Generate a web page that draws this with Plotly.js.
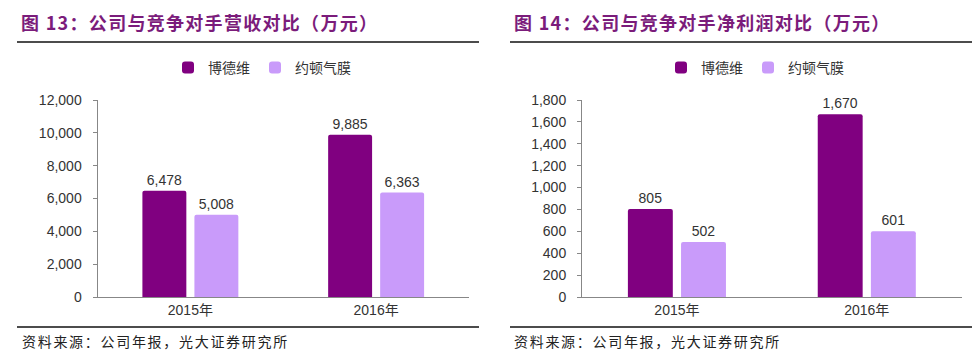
<!DOCTYPE html>
<html><head><meta charset="utf-8">
<script src="https://cdn.plot.ly/plotly-3.0.1.min.js"></script>
<style>html,body{margin:0;padding:0;background:#fff}#chart{width:980px;height:353px}</style>
</head><body><div id="chart"></div>
<script>
const categories = ['2015年', '2016年'];
const seriesNames = ['博德维', '约顿气膜'];
const revBodewei = [6478, 9885];
const revYuedun = [5008, 6363];
const profitBodewei = [805, 1670];
const profitYuedun = [502, 601];
const revTicks = [0, 2000, 4000, 6000, 8000, 10000, 12000];
const profitTicks = [0, 200, 400, 600, 800, 1000, 1200, 1400, 1600, 1800];
const titleLeft = '图 13：公司与竞争对手营收对比（万元）';
const titleRight = '图 14：公司与竞争对手净利润对比（万元）';
const sourceText = '资料来源：公司年报，光大证券研究所';

const W = 980, H = 353;
const px = x => x / W;
const py = y => 1 - y / H;
const DARK = '#800080', LIGHT = '#c99bfa';
const TXT = '#333333';
const AX = '#878787';
const NUMFONT = 'Liberation Sans, Arial, sans-serif';
const CJK = 'Noto Sans CJK SC, sans-serif';
const MIXED = 'Liberation Sans, Noto Sans CJK SC, sans-serif';

function bar(name, x, y, color, xa, ya, legend) {
  return {
    type: 'bar', name: name, x: x, y: y, xaxis: xa, yaxis: ya, legend: legend,
    marker: {color: color, cornerradius: 2, line: {width: 0}},
    text: y.map(v => v.toLocaleString('en-US')), textposition: 'outside',
    textfont: {family: NUMFONT, size: 14, color: TXT}, cliponaxis: false,
    hoverinfo: 'skip'
  };
}

const data = [
  bar(seriesNames[0], categories, revBodewei, DARK, 'x', 'y', 'legend'),
  bar(seriesNames[1], categories, revYuedun, LIGHT, 'x', 'y', 'legend'),
  bar(seriesNames[0], categories, profitBodewei, DARK, 'x2', 'y2', 'legend2'),
  bar(seriesNames[1], categories, profitYuedun, LIGHT, 'x2', 'y2', 'legend2')
];

const xBase = {
  type: 'category', showline: true, linecolor: AX, linewidth: 1, ticks: '',
  showgrid: false, zeroline: false, fixedrange: true,
  tickfont: {family: MIXED, size: 14, color: TXT}
};
const yBase = {
  showline: true, linecolor: AX, linewidth: 1, ticks: 'outside', ticklen: 4,
  tickcolor: AX, showgrid: false, zeroline: false, fixedrange: true,
  tickformat: ',d', ticklabelstandoff: 8,
  tickfont: {family: NUMFONT, size: 14, color: TXT},
  domain: [py(297), py(100)]
};
const legBase = {
  orientation: 'h', xanchor: 'center', yanchor: 'middle', y: py(68),
  font: {family: CJK, size: 14, color: TXT}, itemwidth: 30,
  bgcolor: 'rgba(0,0,0,0)', traceorder: 'normal'
};

function lineShape(x0, x1, y) {
  return {type: 'line', xref: 'paper', yref: 'paper', x0: px(x0), x1: px(x1), y0: py(y), y1: py(y),
          line: {color: '#111111', width: 1.3}};
}
function ann(text, x, y, font) {
  return {xref: 'paper', yref: 'paper', x: px(x), y: py(y), xanchor: 'left', yanchor: 'middle',
          showarrow: false, text: text, font: font};
}
const titleFont = {family: CJK, size: 18, color: '#7b1c7b', weight: 'bold'};
const srcFont = {family: CJK, size: 14, color: '#222222'};
const spaced = (t, s) => '<span style="letter-spacing:' + s + 'px">' + t + '</span>';

const layout = {
  width: W, height: H, margin: {l: 0, r: 0, t: 0, b: 0},
  paper_bgcolor: '#ffffff', plot_bgcolor: '#ffffff',
  barmode: 'group', bargap: 0.44, bargroupgap: 0.155,
  showlegend: true,
  xaxis: Object.assign({}, xBase, {domain: [px(97.5), px(469)], anchor: 'y'}),
  yaxis: Object.assign({}, yBase, {range: [0, 12000], tickvals: revTicks, anchor: 'x'}),
  xaxis2: Object.assign({}, xBase, {domain: [px(582), px(961.7)], anchor: 'y2'}),
  yaxis2: Object.assign({}, yBase, {range: [0, 1800], tickvals: profitTicks, anchor: 'x2'}),
  legend: Object.assign({}, legBase, {x: px(262)}),
  legend2: Object.assign({}, legBase, {x: px(755)}),
  shapes: [lineShape(17, 479, 42), lineShape(510, 972, 42), lineShape(17, 479, 327), lineShape(510, 972, 327)],
  annotations: [
    ann(spaced(titleLeft, 1.3), 19, 22, titleFont),
    ann(spaced(titleRight, 1.3), 512, 22, titleFont),
    ann(spaced(sourceText, 1.7), 20, 341, srcFont),
    ann(spaced(sourceText, 1.7), 512, 341, srcFont)
  ]
};

Plotly.newPlot('chart', data, layout, {staticPlot: true, displayModeBar: false});
</script></body></html>
